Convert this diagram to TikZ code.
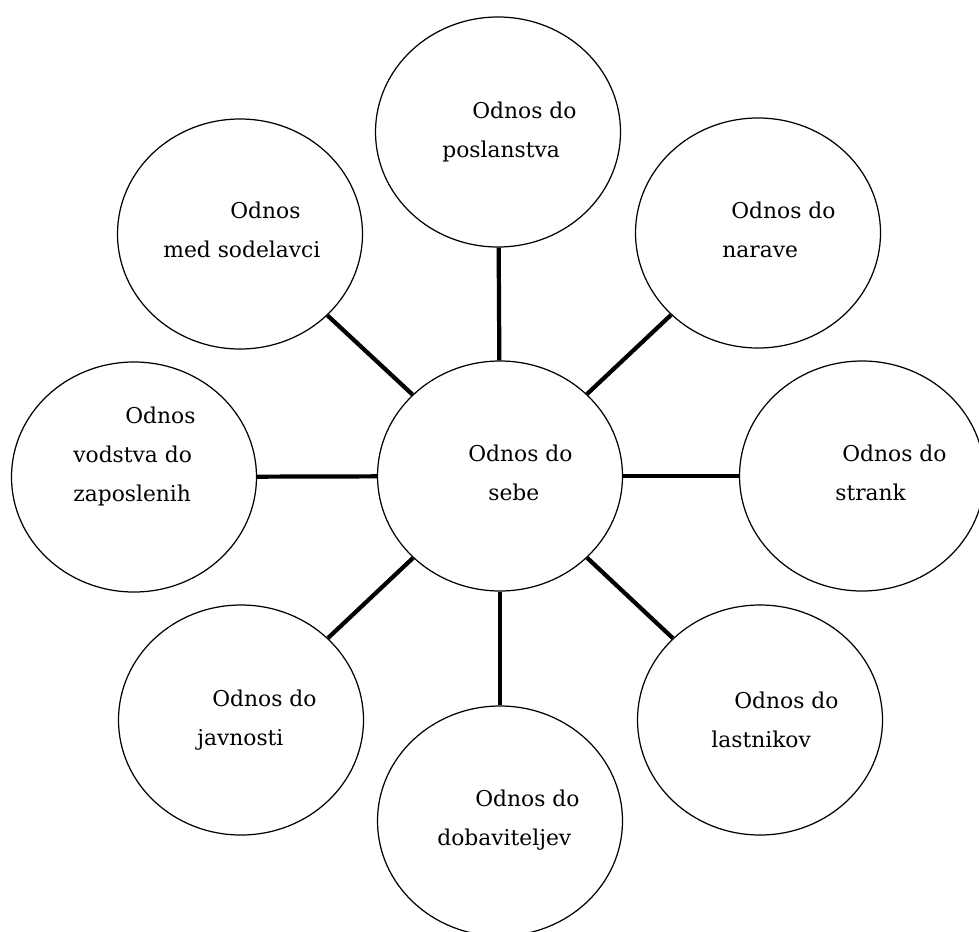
\documentclass[tikz,border=0pt]{standalone}
\usepackage{fontspec}
\setmainfont{DejaVu Serif}

\tikzset{
  krog/.style={draw,ellipse,line width=0.7pt,minimum width=4.9cm,minimum height=4.6cm,inner sep=0pt},
  napis/.style={anchor=north west,inner sep=0pt,align=left,font=\fontsize{12.4}{22}\selectfont},
  vez/.style={line width=2.4pt}
}
\usetikzlibrary{shapes.geometric}

\begin{document}
\begin{tikzpicture}
            \useasboundingbox (0,0) rectangle (19.58,-18.62);
            % krogi
            \node[krog] (sebe) at (10.0,-9.52) {};
            \node[krog] (poslanstvo) at (9.96,-2.64) {};
            \node[krog] (sodelavci) at (4.8,-4.68) {};
            \node[krog] (narava) at (15.16,-4.66) {};
            \node[krog] (vodstvo) at (2.68,-9.54) {};
            \node[krog] (stranke) at (17.24,-9.52) {};
            \node[krog] (javnost) at (4.82,-14.4) {};
            \node[krog] (dobavitelji) at (10.0,-16.42) {};
            \node[krog] (lastniki) at (15.2,-14.4) {};
            % napisi
            \node[napis] (t-sebe) at (9.36,-8.9) {Odnos do\\\hspace*{0.4cm}sebe};
            \node[napis] (t-poslanstvo) at (8.84,-2.04) {\hspace*{0.6cm}Odnos do\\poslanstva};
            \node[napis] (t-sodelavci) at (3.26,-4.04) {\hspace*{1.34cm}Odnos\\med sodelavci};
            \node[napis] (t-narava) at (14.44,-4.04) {\hspace*{0.18cm}Odnos do\\narave};
            \node[napis] (t-vodstvo) at (1.46,-8.14) {\hspace*{1.04cm}Odnos\\vodstva do\\zaposlenih};
            \node[napis] (t-stranke) at (16.7,-8.9) {\hspace*{0.14cm}Odnos do\\strank};
            \node[napis] (t-javnost) at (3.94,-13.8) {\hspace*{0.3cm}Odnos do\\javnosti};
            \node[napis] (t-dobavitelji) at (8.74,-15.8) {\hspace*{0.76cm}Odnos do\\dobaviteljev};
            \node[napis] (t-lastniki) at (14.22,-13.84) {\hspace*{0.46cm}Odnos do\\lastnikov};
            % povezave
            \draw[vez] (sebe) -- (poslanstvo);
            \draw[vez] (sebe) -- (sodelavci);
            \draw[vez] (sebe) -- (narava);
            \draw[vez] (sebe) -- (vodstvo);
            \draw[vez] (sebe) -- (stranke);
            \draw[vez] (sebe) -- (javnost);
            \draw[vez] (sebe) -- (dobavitelji);
            \draw[vez] (sebe) -- (lastniki);
        \end{tikzpicture}
\end{document}
